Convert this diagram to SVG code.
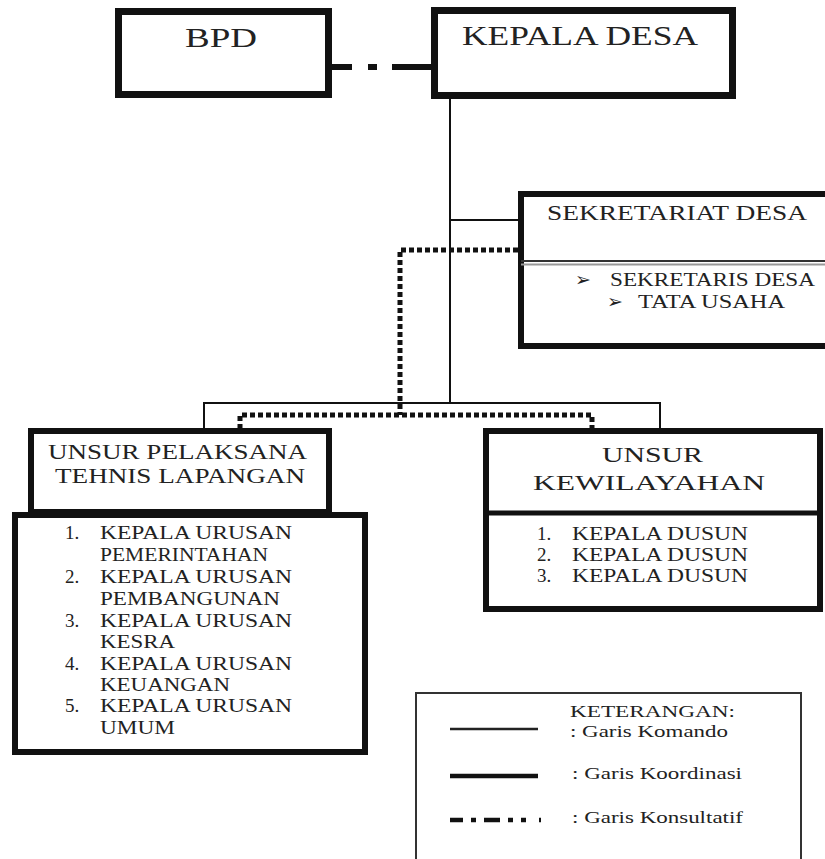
<svg xmlns="http://www.w3.org/2000/svg" width="825" height="859" viewBox="0 0 825 859" font-family="'Liberation Serif', 'DejaVu Serif', serif">
<style>
.box{fill:#fff;stroke:#111;stroke-width:7}
.box6{fill:#fff;stroke:#111;stroke-width:6}
text{font-family:'Liberation Serif','DejaVu Serif',serif;fill:#222}
.big{font-size:27px}
.hd{font-size:22px}
.li{font-size:19px}
.lg{font-size:17px}
.cmd{fill:none;stroke:#111;stroke-width:2}
.dot{fill:none;stroke:#111;stroke-width:5;stroke-dasharray:5 3}
</style>
<rect width="825" height="859" fill="#fff"/>
<g id="connectors">
  <path class="cmd" d="M450 99 V403"/>
  <path class="cmd" d="M450 220 H519"/>
  <path class="cmd" d="M204 429 V403 H660 V429"/>
  <path class="dot" d="M518 250 H400 V415"/>
  <path class="dot" d="M240 429 V415 H592 V429"/>
  <line x1="332" y1="67" x2="432" y2="67" stroke="#111" stroke-width="6" stroke-dasharray="20 16 9 15 40"/>
</g>
<g id="bpd">
  <rect class="box" x="118.5" y="11.5" width="210" height="83"/>
  <text class="big" x="185" y="47" textLength="72" lengthAdjust="spacingAndGlyphs">BPD</text>
</g>
<g id="kepala-desa">
  <rect class="box" x="434.5" y="10.5" width="298" height="85"/>
  <text class="big" x="462" y="45" textLength="236" lengthAdjust="spacingAndGlyphs">KEPALA DESA</text>
</g>
<g id="sekretariat">
  <rect class="box6" x="521" y="194" width="320" height="152"/>
  <line x1="521" y1="261" x2="830" y2="261" stroke="#333" stroke-width="2"/>
  <line x1="521" y1="264.5" x2="830" y2="264.5" stroke="#999" stroke-width="2"/>
  <text class="hd" x="547" y="220" textLength="260" lengthAdjust="spacingAndGlyphs">SEKRETARIAT DESA</text>
  <text class="li" x="575" y="286">➢</text>
  <text class="li" x="610" y="286" textLength="205" lengthAdjust="spacingAndGlyphs">SEKRETARIS DESA</text>
  <text class="li" x="607" y="308">➢</text>
  <text class="li" x="638" y="308" textLength="147" lengthAdjust="spacingAndGlyphs">TATA USAHA</text>
</g>
<g id="unsur-pelaksana">
  <rect class="box6" x="31" y="431" width="298" height="81"/>
  <rect class="box6" x="15" y="515" width="350" height="237"/>
  <text class="hd" x="48" y="459" textLength="259" lengthAdjust="spacingAndGlyphs">UNSUR PELAKSANA</text>
  <text class="hd" x="55" y="483" textLength="250" lengthAdjust="spacingAndGlyphs">TEHNIS LAPANGAN</text>
  <g>
    <text class="li" x="65" y="539">1.</text><text class="li" x="100" y="539" textLength="192" lengthAdjust="spacingAndGlyphs">KEPALA URUSAN</text>
    <text class="li" x="100" y="561" textLength="168" lengthAdjust="spacingAndGlyphs">PEMERINTAHAN</text>
    <text class="li" x="65" y="583">2.</text><text class="li" x="100" y="583" textLength="192" lengthAdjust="spacingAndGlyphs">KEPALA URUSAN</text>
    <text class="li" x="100" y="605" textLength="180" lengthAdjust="spacingAndGlyphs">PEMBANGUNAN</text>
    <text class="li" x="65" y="627">3.</text><text class="li" x="100" y="627" textLength="192" lengthAdjust="spacingAndGlyphs">KEPALA URUSAN</text>
    <text class="li" x="100" y="648" textLength="75" lengthAdjust="spacingAndGlyphs">KESRA</text>
    <text class="li" x="65" y="670">4.</text><text class="li" x="100" y="670" textLength="192" lengthAdjust="spacingAndGlyphs">KEPALA URUSAN</text>
    <text class="li" x="100" y="691" textLength="130" lengthAdjust="spacingAndGlyphs">KEUANGAN</text>
    <text class="li" x="65" y="712">5.</text><text class="li" x="100" y="712" textLength="192" lengthAdjust="spacingAndGlyphs">KEPALA URUSAN</text>
    <text class="li" x="100" y="734" textLength="75" lengthAdjust="spacingAndGlyphs">UMUM</text>
  </g>
</g>
<g id="unsur-kewilayahan">
  <rect class="box6" x="486" y="431" width="334" height="178"/>
  <line x1="486" y1="513" x2="820" y2="513" stroke="#111" stroke-width="5"/>
  <text class="hd" x="602" y="462" textLength="101" lengthAdjust="spacingAndGlyphs">UNSUR</text>
  <text class="hd" x="533" y="490" textLength="232" lengthAdjust="spacingAndGlyphs">KEWILAYAHAN</text>
  <g>
    <text class="li" x="537" y="540">1.</text><text class="li" x="572" y="540" textLength="176" lengthAdjust="spacingAndGlyphs">KEPALA DUSUN</text>
    <text class="li" x="537" y="561">2.</text><text class="li" x="572" y="561" textLength="176" lengthAdjust="spacingAndGlyphs">KEPALA DUSUN</text>
    <text class="li" x="537" y="582">3.</text><text class="li" x="572" y="582" textLength="176" lengthAdjust="spacingAndGlyphs">KEPALA DUSUN</text>
  </g>
</g>
<g id="legend">
  <rect x="416" y="693" width="385" height="200" fill="none" stroke="#333" stroke-width="2"/>
  <text class="lg" x="570" y="717" textLength="165" lengthAdjust="spacingAndGlyphs">KETERANGAN:</text>
  <line x1="450" y1="729" x2="538" y2="729" stroke="#222" stroke-width="2.5"/>
  <text class="lg" x="570" y="737" textLength="158" lengthAdjust="spacingAndGlyphs">: Garis Komando</text>
  <line x1="450" y1="776" x2="538" y2="776" stroke="#111" stroke-width="4.5"/>
  <text class="lg" x="572" y="779" textLength="170" lengthAdjust="spacingAndGlyphs">: Garis Koordinasi</text>
  <line x1="450" y1="820" x2="541" y2="820" stroke="#111" stroke-width="4.5" stroke-dasharray="13 8 5 8 16 8 5 8 5"/>
  <text class="lg" x="572" y="823" textLength="171" lengthAdjust="spacingAndGlyphs">: Garis Konsultatif</text>
</g>
</svg>
